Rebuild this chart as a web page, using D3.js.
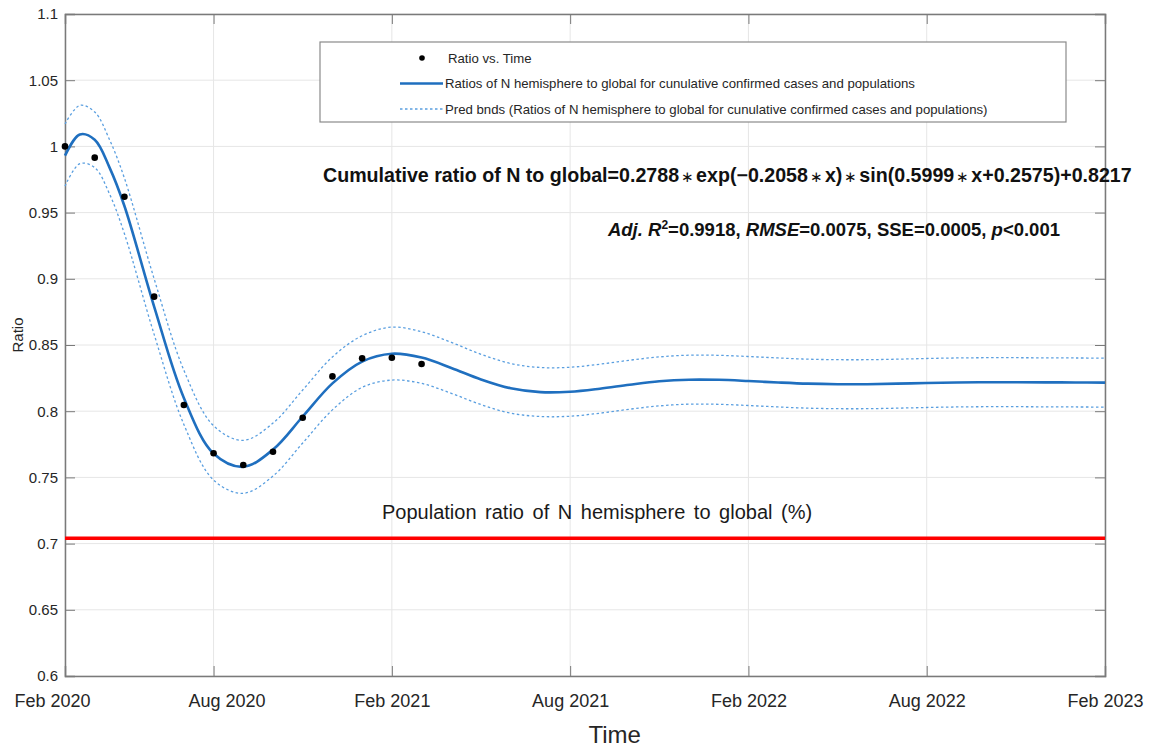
<!DOCTYPE html>
<html>
<head>
<meta charset="utf-8">
<script src="https://cdn.jsdelivr.net/npm/d3@7"></script>
<style>
  body { margin: 0; background: #fff; }
  svg text { font-family: "Liberation Sans", Arial, sans-serif; fill: #262626; }
</style>
</head>
<body>
<div class="chart"></div>
<script>
// observed monthly ratios (month 0 = start of axis)
const obsMonths = [0, 1, 2, 3, 4, 5, 6, 7, 8, 9, 10, 11, 12]
const obsRatio = [1.000, 0.9915, 0.962, 0.8865, 0.8047, 0.7682, 0.7594, 0.7694, 0.7951, 0.8263, 0.8399, 0.8404, 0.8356]

// fitted curve + prediction bounds
const fitMonths = [0, 0.5, 1, 1.5, 2, 3, 4, 5, 6, 7, 8, 9, 10, 11, 12, 13, 14, 15, 16, 17, 18, 19, 20, 21, 22, 23, 24, 25, 26, 27, 28, 29, 30, 31, 32, 33, 34, 35]
const fitRatio = [0.993, 1.009, 1.005, 0.984, 0.955, 0.879, 0.810, 0.768, 0.758, 0.771, 0.796, 0.821, 0.8375, 0.8434, 0.8405, 0.8327, 0.824, 0.8173, 0.8144, 0.8147, 0.817, 0.820, 0.8226, 0.8238, 0.8237, 0.8228, 0.8217, 0.8208, 0.8204, 0.8204, 0.8208, 0.8213, 0.8217, 0.8219, 0.8219, 0.8218, 0.8217, 0.8216]
const upperBnd = [1.017, 1.031, 1.026, 1.005, 0.976, 0.900, 0.831, 0.789, 0.778, 0.791, 0.816, 0.841, 0.857, 0.8635, 0.860, 0.852, 0.843, 0.836, 0.833, 0.8332, 0.8355, 0.8385, 0.841, 0.8423, 0.8422, 0.8413, 0.8402, 0.8393, 0.8389, 0.8389, 0.8393, 0.8398, 0.8402, 0.8404, 0.8404, 0.8403, 0.8402, 0.8401]
const lowerBnd = [0.970, 0.987, 0.984, 0.964, 0.934, 0.858, 0.790, 0.748, 0.738, 0.751, 0.776, 0.801, 0.818, 0.8235, 0.821, 0.8135, 0.805, 0.7985, 0.796, 0.7962, 0.7985, 0.8015, 0.804, 0.8053, 0.8052, 0.8043, 0.8032, 0.8023, 0.8019, 0.8019, 0.8023, 0.8028, 0.8032, 0.8034, 0.8034, 0.8033, 0.8032, 0.8031]

const popRatio = 0.704

const xTickMonths = [0, 5, 11, 17, 23, 29, 35]
const xTickLabels = ["Feb 2020", "Aug 2020", "Feb 2021", "Aug 2021", "Feb 2022", "Aug 2022", "Feb 2023"]
const yTicks = [0.6, 0.65, 0.7, 0.75, 0.8, 0.85, 0.9, 0.95, 1, 1.05, 1.1]

const legendLabels = [
    "Ratio vs. Time",
    "Ratios of N hemisphere to global for cunulative confirmed cases and populations",
    "Pred bnds (Ratios of N hemisphere to global for cunulative confirmed cases and populations)"
]

// equation pieces, split on the multiplication signs
const eqParts = ["Cumulative ratio of N to global=0.2788", "exp(\u22120.2058", "x)", "sin(0.5999", "x+0.2575)+0.8217"]

let outerWidth = 1150
let outerHeight = 747
let margin = {top: 14, bottom: 71, left: 65, right: 45}
let w = outerWidth - margin.left - margin.right
let h = outerHeight - margin.top - margin.bottom

const blue = "#1f6fbf"
const boxColor = "#7a7a7a"

const root = d3.select(".chart")
    .append("svg")
    .attr("width", outerWidth)
    .attr("height", outerHeight)

const svg = root.append("g")
    .attr("transform", `translate(${margin.left}, ${margin.top})`)

const xScale = d3.scaleLinear()
    .domain([0, 35])
    .range([0, w])

const yScale = d3.scaleLinear()
    .domain([0.6, 1.1])
    .range([h, 0])

// grid
svg.append("g")
    .selectAll("line")
    .data(xTickMonths)
    .join("line")
    .attr("x1", d => xScale(d))
    .attr("x2", d => xScale(d))
    .attr("y1", 0)
    .attr("y2", h)
    .attr("stroke", "#e6e6e6")

svg.append("g")
    .selectAll("line")
    .data(yTicks)
    .join("line")
    .attr("x1", 0)
    .attr("x2", w)
    .attr("y1", d => yScale(d))
    .attr("y2", d => yScale(d))
    .attr("stroke", "#e6e6e6")

// axes (ticks pointing inward)
const yFmt = d => String(+d.toFixed(2))

const yAxis = d3.axisLeft(yScale)
    .tickValues(yTicks)
    .tickSize(-10)
    .tickPadding(7)
    .tickFormat(yFmt)

const yAxisRight = d3.axisRight(yScale)
    .tickValues(yTicks)
    .tickSize(-10)
    .tickFormat("")

const xAxis = d3.axisBottom(xScale)
    .tickValues(xTickMonths)
    .tickSize(-10)
    .tickPadding(18)
    .tickFormat((d, i) => xTickLabels[i])

const xAxisTop = d3.axisTop(xScale)
    .tickValues(xTickMonths)
    .tickSize(-10)
    .tickFormat("")

svg.append("g")
    .attr("class", "axis y-axis")
    .call(yAxis)
svg.append("g")
    .attr("class", "axis y-axis-r")
    .attr("transform", `translate(${w}, 0)`)
    .call(yAxisRight)
svg.append("g")
    .attr("class", "axis x-axis")
    .attr("transform", `translate(0, ${h})`)
    .call(xAxis)
svg.append("g")
    .attr("class", "axis x-axis-t")
    .call(xAxisTop)

svg.selectAll(".axis path, .axis line")
    .attr("stroke", boxColor)
svg.selectAll(".axis path")
    .attr("stroke-width", 1.5)
svg.selectAll(".y-axis text")
    .attr("font-size", 15)
    .attr("fill", "#262626")
svg.selectAll(".x-axis text")
    .attr("font-size", 18)
    .attr("fill", "#262626")
// the first two date labels sit slightly off their ticks in the original
svg.selectAll(".x-axis .tick text")
    .attr("dx", (d, i) => i == 0 ? -13 : (i == 1 ? 13 : 0))

// axis titles
svg.append("text")
    .attr("x", xScale(18.5))
    .attr("y", h + 67)
    .attr("text-anchor", "middle")
    .attr("font-size", 24)
    .text("Time")

svg.append("text")
    .attr("transform", `translate(${-42}, ${yScale(0.85) - 10}) rotate(-90)`)
    .attr("text-anchor", "middle")
    .attr("font-size", 15)
    .text("Ratio")

// population ratio line
svg.append("line")
    .attr("x1", 0)
    .attr("x2", w)
    .attr("y1", yScale(popRatio))
    .attr("y2", yScale(popRatio))
    .attr("stroke", "#ff0000")
    .attr("stroke-width", 3.5)

svg.append("text")
    .attr("x", 317)
    .attr("y", yScale(popRatio) - 19)
    .attr("font-size", 20)
    .attr("word-spacing", 3)
    .style("fill", "#1a1a1a")
    .text("Population ratio of N hemisphere to global (%)")

// fit + bounds
const fitData = fitMonths.map((m, i) => ({m: m, fit: fitRatio[i], up: upperBnd[i], lo: lowerBnd[i]}))

const line = key => d3.line()
    .x(d => xScale(d.m))
    .y(d => yScale(d[key]))
    .curve(d3.curveCatmullRom.alpha(0.5))

svg.append("path")
    .datum(fitData)
    .attr("d", line("up"))
    .attr("fill", "none")
    .attr("stroke", "#5a9fe0")
    .attr("stroke-width", 1.3)
    .attr("stroke-dasharray", "2.5,2.5")

svg.append("path")
    .datum(fitData)
    .attr("d", line("lo"))
    .attr("fill", "none")
    .attr("stroke", "#5a9fe0")
    .attr("stroke-width", 1.3)
    .attr("stroke-dasharray", "2.5,2.5")

svg.append("path")
    .datum(fitData)
    .attr("d", line("fit"))
    .attr("fill", "none")
    .attr("stroke", blue)
    .attr("stroke-width", 2.6)

svg.append("g")
    .selectAll("circle")
    .data(obsMonths.map((m, i) => ({m: m, v: obsRatio[i]})))
    .join("circle")
    .attr("cx", d => xScale(d.m))
    .attr("cy", d => yScale(d.v))
    .attr("r", 3.3)
    .attr("fill", "#000")

// legend
const lg = root.append("g")
lg.append("rect")
    .attr("x", 320)
    .attr("y", 42)
    .attr("width", 746)
    .attr("height", 80)
    .attr("fill", "#fff")
    .attr("stroke", "#8a8a8a")
    .attr("stroke-width", 1.2)

const legendY = [58, 83.5, 109]

lg.append("circle")
    .attr("cx", 422)
    .attr("cy", legendY[0])
    .attr("r", 2.8)
    .attr("fill", "#000")
lg.append("line")
    .attr("x1", 400).attr("x2", 443)
    .attr("y1", legendY[1]).attr("y2", legendY[1])
    .attr("stroke", blue)
    .attr("stroke-width", 2.6)
lg.append("line")
    .attr("x1", 400).attr("x2", 443)
    .attr("y1", legendY[2]).attr("y2", legendY[2])
    .attr("stroke", "#5a9fe0")
    .attr("stroke-width", 1.3)
    .attr("stroke-dasharray", "2.5,2.5")

lg.selectAll("text.lgtext")
    .data(legendLabels)
    .join("text")
    .attr("class", "lgtext")
    .attr("x", (d, i) => i == 0 ? 448 : 445)
    .attr("y", (d, i) => legendY[i] + 4.5)
    .attr("font-size", 13.2)
    .text(d => d)

// equation + statistics
const eq = root.append("text")
    .attr("x", 323)
    .attr("y", 182)
    .attr("font-size", 18)
    .attr("font-weight", "bold")
    .style("fill", "#111")
eqParts.forEach((p, i) => {
    if (i > 0) {
        eq.append("tspan")
            .attr("font-size", "0.75em")
            .attr("font-weight", "normal")
            .attr("dx", 2)
            .text("\u2217")
        eq.append("tspan").attr("dx", 2).text(p)
    } else {
        eq.append("tspan").text(p)
    }
})
// size the equation so it spans the same width as in the original
const eqLen = eq.node().getComputedTextLength()
eq.attr("font-size", 18 * 794 / eqLen)

const stats = root.append("text")
    .attr("x", 1060)
    .attr("y", 236)
    .attr("text-anchor", "end")
    .attr("font-size", 18.5)
    .attr("font-weight", "bold")
    .style("fill", "#111")
stats.append("tspan").attr("font-style", "italic").text("Adj. R")
stats.append("tspan").attr("font-size", 12).attr("dy", -7).text("2")
stats.append("tspan").attr("dy", 7).text("=0.9918, ")
stats.append("tspan").attr("font-style", "italic").text("RMSE")
stats.append("tspan").text("=0.0075, SSE=0.0005, ")
stats.append("tspan").attr("font-style", "italic").text("p")
stats.append("tspan").text("<0.001")
</script>
</body>
</html>
